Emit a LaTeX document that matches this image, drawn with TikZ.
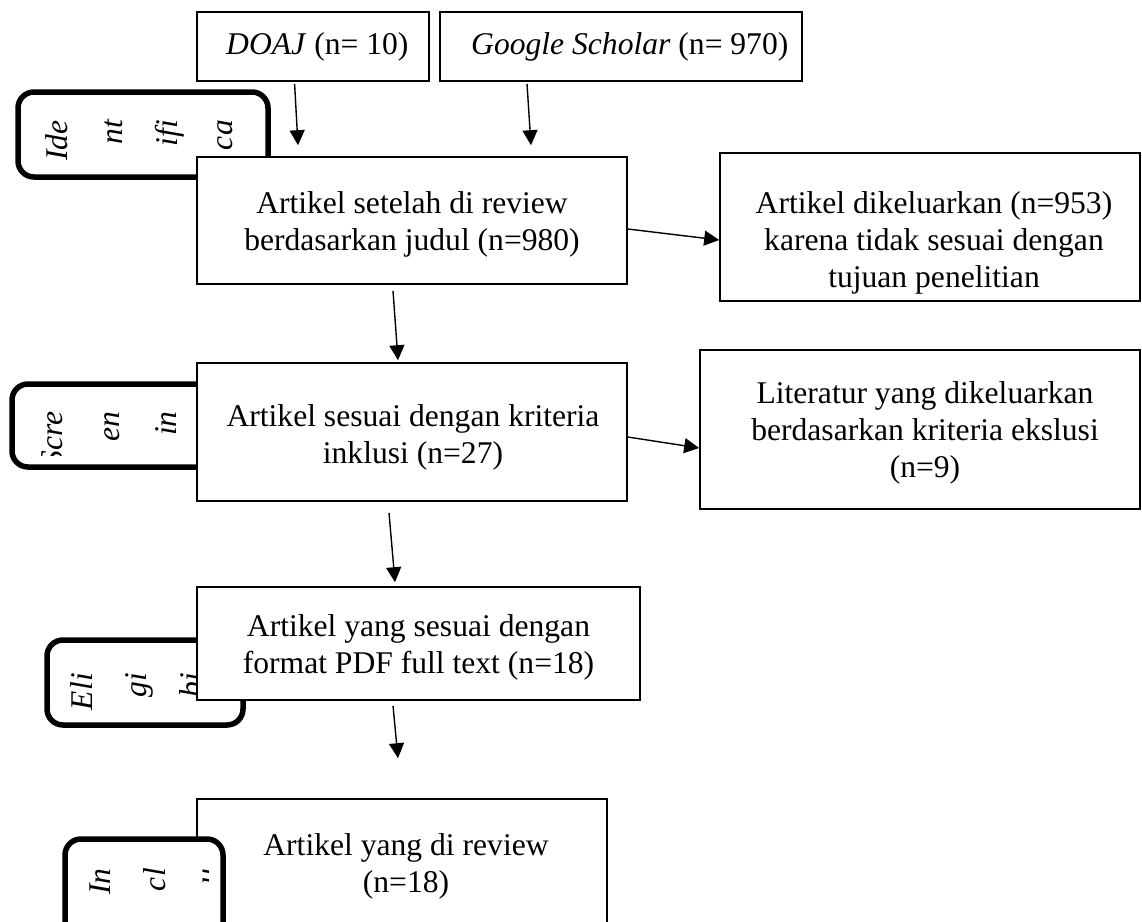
\documentclass[tikz,border=0pt]{standalone}
\usepackage{fontspec}
\setmainfont{Liberation Serif}
\usetikzlibrary{arrows.meta}
\newcommand{\fsz}{\fontsize{31.6}{37}\selectfont}
\tikzset{
  box/.style={draw, line width=1.6pt, fill=white, inner sep=0pt},
  tag/.style={draw, line width=5.5pt, rounded corners=16pt, inner sep=0pt},
  txt/.style={align=center, inner sep=0pt, font=\fsz, anchor=base},
  ltxt/.style={inner sep=0pt, font=\fsz, anchor=base west},
  vtxt/.style={rotate=90, anchor=base east, inner sep=0pt, font=\fsz\itshape},
  arr/.style={line width=1.4pt, -{Triangle[length=15pt,width=15pt]}},
}
\begin{document}
\begin{tikzpicture}[x=1pt,y=-1pt]
\useasboundingbox (0,0) rectangle (1142,921);
% --- side tags (below the main boxes) ---
\begin{scope}
  \clip[rounded corners=16pt] (18,92) rectangle (268,177);
  \node[vtxt] (id1) at (67,120) {Ide};
  \node[vtxt] (id2) at (122,120) {nt};
  \node[vtxt] (id3) at (177,120) {ifi};
  \node[vtxt] (id4) at (232,120) {ca};
\end{scope}
\node[tag, minimum width=250pt, minimum height=85pt] (idt) at (143,134.5) {};
\begin{scope}
  \clip (12,384) rectangle (260,455);
  \node[vtxt] (sc1) at (62,411) {Scre};
  \node[vtxt] (sc2) at (119,411) {en};
  \node[vtxt] (sc3) at (176,411) {in};
\end{scope}
\node[tag, minimum width=248pt, minimum height=83pt] (sct) at (136,425.5) {};
\begin{scope}
  \clip[rounded corners=16pt] (47,640) rectangle (243,725);
  \node[vtxt] (el1) at (92,673) {Eli};
  \node[vtxt] (el2) at (146,673) {gi};
  \node[vtxt] (el3) at (201,673) {bi};
\end{scope}
\node[tag, minimum width=196pt, minimum height=85pt] (elt) at (145,682.5) {};
% --- source boxes ---
\node[box, minimum width=232pt, minimum height=69pt] (doaj) at (313,46.5) {};
\node[ltxt] (doajt) at (226,54) {\textit{DOAJ} (n= 10)};
\node[box, minimum width=362pt, minimum height=69pt] (gs) at (621,46.5) {};
\node[ltxt] (gst) at (471,54) {\textit{Google Scholar} (n= 970)};
% --- main boxes ---
\node[box, minimum width=430pt, minimum height=127pt] (b1) at (412,220.5) {};
\node[txt] (b1t) at (412,250) {Artikel setelah di review\\berdasarkan judul (n=980)};
\node[box, minimum width=430pt, minimum height=138pt] (b2) at (412,432) {};
\node[txt] (b2t) at (413,463) {Artikel sesuai dengan kriteria\\inklusi (n=27)};
\node[box, minimum width=443pt, minimum height=113pt] (b3) at (418.5,643.5) {};
\node[txt] (b3t) at (418.5,673) {Artikel yang sesuai dengan\\format PDF full text (n=18)};
\node[box, minimum width=410pt, minimum height=142pt] (b4) at (402,870) {};
\node[txt] (b4t) at (406,892) {Artikel yang di review\\(n=18)};
\node[box, minimum width=420pt, minimum height=148pt] (r1) at (930,227) {};
\node[txt] (r1t) at (934,287) {Artikel dikeluarkan (n=953)\\karena tidak sesuai dengan\\tujuan penelitian};
\node[box, minimum width=440pt, minimum height=159pt] (r2) at (920,429.5) {};
\node[txt] (r2t) at (925,477) {Literatur yang dikeluarkan\\berdasarkan kriteria ekslusi\\(n=9)};
% --- inclusion tag lies over the last box ---
\node[tag, fill=white, minimum width=158pt, minimum height=102pt] (int) at (144,890) {};
\begin{scope}
  \clip (65,839) rectangle (208,941);
  \node[vtxt] (in1) at (110,868) {In};
  \node[vtxt] (in2) at (165,868) {cl};
  \node[vtxt] (in3) at (217,868) {u};
\end{scope}
% --- arrows ---
\draw[arr] ([xshift=-18.4pt,yshift=-2pt]doaj.south) -- ([xshift=-114pt,yshift=11pt]b1.north);
\draw[arr] ([xshift=-94pt,yshift=-2pt]gs.south) -- ([xshift=119pt,yshift=11pt]b1.north);
\draw[arr] ([yshift=-8.5pt]b1.east) -- ([yshift=-13pt]r1.west);
\draw[arr] ([xshift=-19pt,yshift=-6pt]b1.south) -- ([xshift=-14pt,yshift=2pt]b2.north);
\draw[arr] ([yshift=-5pt]b2.east) -- ([yshift=-18.5pt]r2.west);
\draw[arr] ([xshift=-23pt,yshift=-11pt]b2.south) -- ([xshift=-23.5pt,yshift=4pt]b3.north);
\draw[arr] ([xshift=-25.5pt,yshift=-5pt]b3.south) -- ([xshift=-4pt,yshift=40pt]b4.north);
\end{tikzpicture}
\end{document}
